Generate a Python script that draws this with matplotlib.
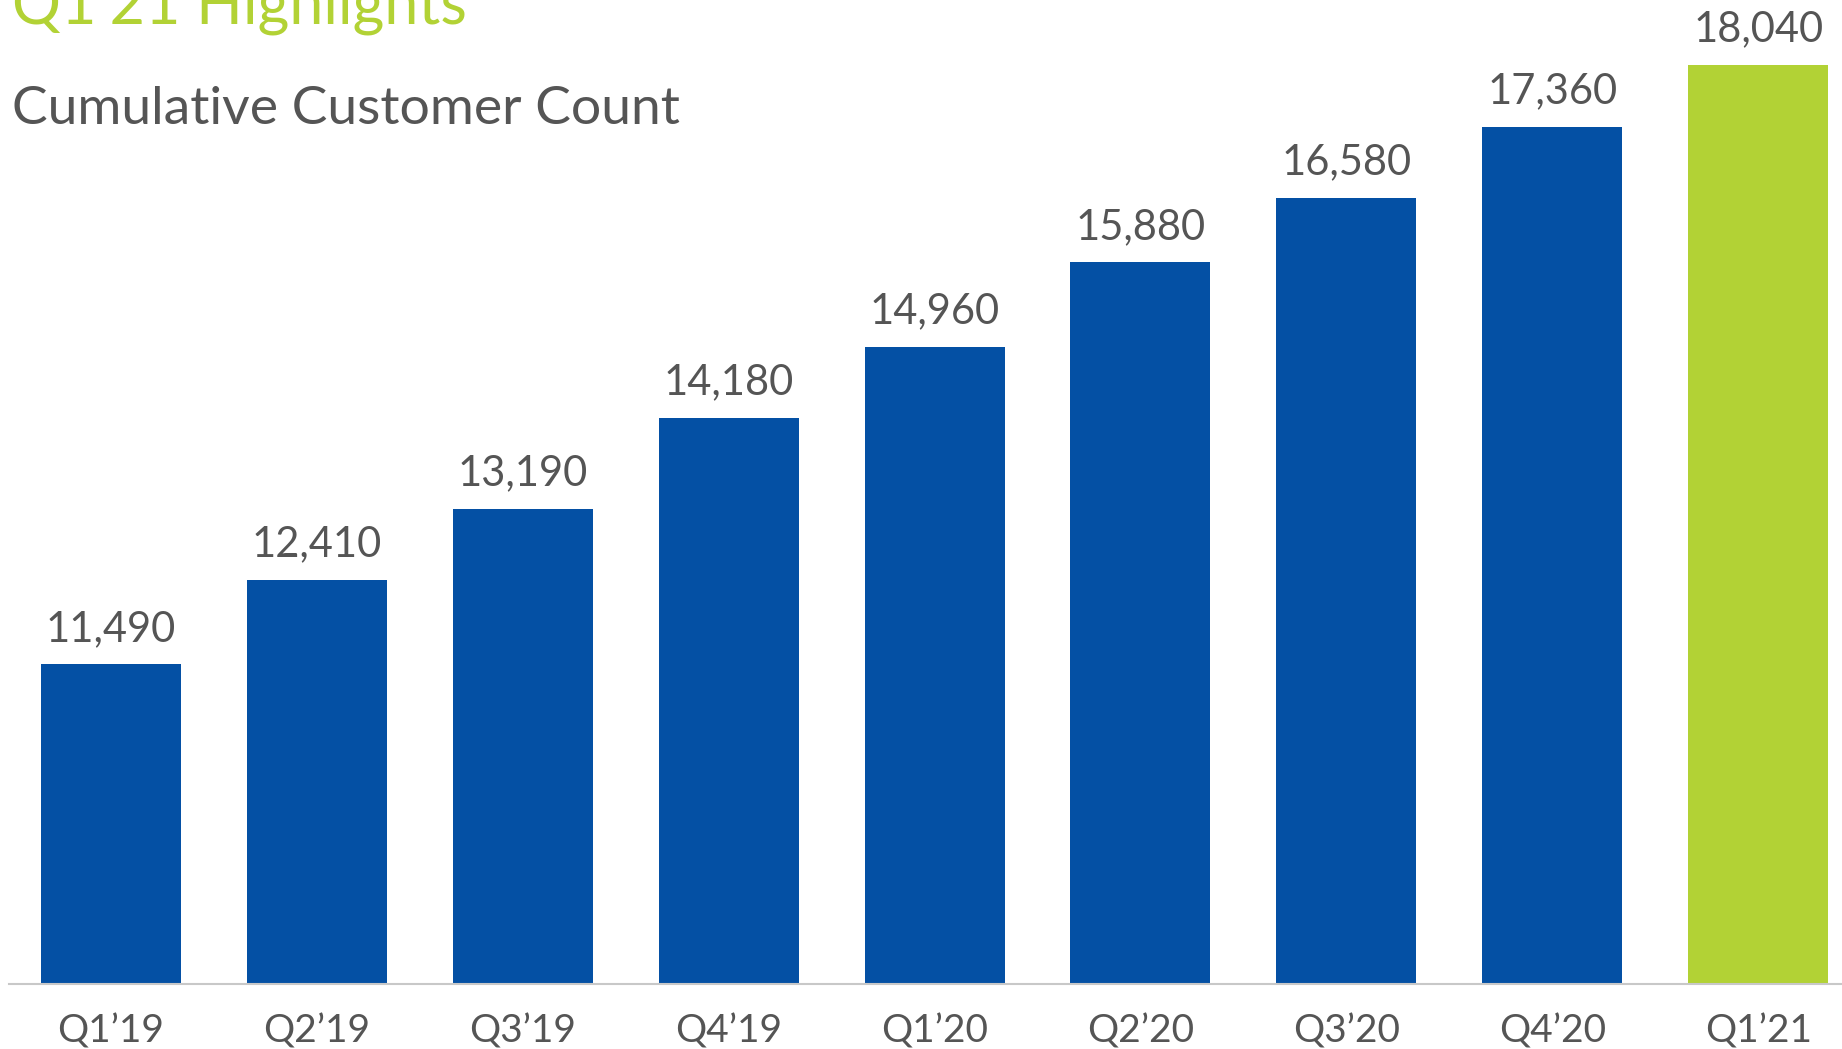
import matplotlib
matplotlib.use("Agg")
import matplotlib.pyplot as plt

# Quarterly cumulative customer counts
quarters = ["Q1\u201919", "Q2\u201919", "Q3\u201919", "Q4\u201919", "Q1\u201920",
            "Q2\u201920", "Q3\u201920", "Q4\u201920", "Q1\u201921"]
customers = [11490, 12410, 13190, 14180, 14960, 15880, 16580, 17360, 18040]

blue = "#0450A4"
green = "#B2D235"
grey_text = "#555555"
colors = [blue] * (len(quarters) - 1) + [green]

plt.rcParams['font.family'] = ['Lato', 'DejaVu Sans']

W, H = 1842, 1049
fig = plt.figure(figsize=(W / 100, H / 100), dpi=100)

# axes: baseline at y=984 px, top at figure top
ax = fig.add_axes([9 / W, (H - 984) / H, 1 - 9 / W, 984 / H])

x = range(len(quarters))
bars = ax.bar(x, customers, width=0.68, color=colors)
ax.bar_label(bars, labels=[f"{v:,}" for v in customers], padding=12,
             fontsize=30, color=grey_text)

ax.set_ylim(8000, 8000 + 984 / 0.09157)
ax.set_xlim(-0.495, 8.407)

ax.set_xticks(list(x))
ax.set_xticklabels(quarters, fontsize=28, color=grey_text)
ax.tick_params(axis='x', length=0, pad=21)
ax.set_yticks([])
for s in ["top", "left", "right"]:
    ax.spines[s].set_visible(False)
ax.spines["bottom"].set_color("#c8c8c8")
ax.spines["bottom"].set_linewidth(1.5)

# headings (title is partly above the top edge, as in the slide crop)
fig.text(12 / W, 1 - 24 / H, "Q1\u201921 Highlights", fontsize=44, color=green,
         va="baseline", ha="left")
fig.text(12 / W, 1 - 124 / H, "Cumulative Customer Count", fontsize=38.5,
         color=grey_text, va="baseline", ha="left")

fig.savefig("out.png", dpi=100)
